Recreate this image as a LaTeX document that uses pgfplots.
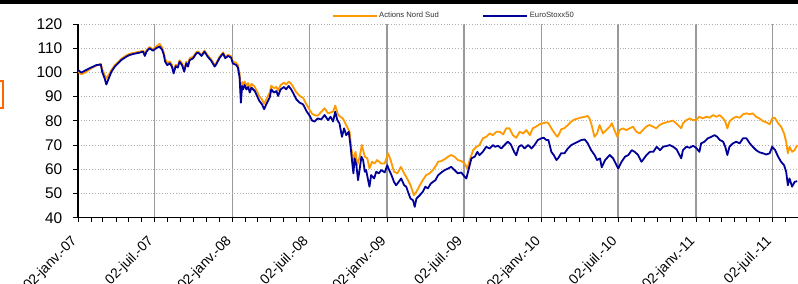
\documentclass[border=0pt]{standalone}
\usepackage{pgfplots}
\pgfplotsset{compat=1.18}
\usepackage{fontspec}
\setmainfont{Liberation Sans}
\definecolor{nsorange}{HTML}{FF9900}
\definecolor{stoxx}{HTML}{000099}
\definecolor{boxorange}{HTML}{FF6600}
\begin{document}
\begin{tikzpicture}
\useasboundingbox (0,0) rectangle (798bp,-284bp);
\clip (0,0) rectangle (798bp,-284bp);
\fill[black] (0,0) rectangle (798bp,-3.5bp);
\draw[boxorange, line width=2bp] (-10bp,-81bp) rectangle (3.3bp,-108bp);
\begin{axis}[
  at={(78bp,-217.7bp)}, anchor=south west,
  scale only axis, width=720bp, height=193.7bp,
  xmin=0, xmax=1702, ymin=40, ymax=120,
  axis x line*=bottom, axis y line*=left,
  axis line style={-, black, line width=1.2bp},
  tick pos=left, tick align=outside,
  major tick length=4.5bp, minor tick length=4bp,
  every tick/.style={black, line width=1bp},
  xtick={0,181,365,547,731,912,1096,1277,1461,1642},
  xticklabels={02-janv.-07,02-juil.-07,02-janv.-08,02-juil.-08,02-janv.-09,02-juil.-09,02-janv.-10,02-juil.-10,02-janv.-11,02-juil.-11},
  minor xtick={31,59,90,120,151,212,243,273,304,334,396,425,456,486,517,578,609,639,670,700,762,790,821,851,882,943,974,1004,1035,1065,1127,1155,1186,1216,1247,1308,1339,1369,1400,1430,1492,1520,1551,1581,1612,1673},
  ytick={40,50,...,120},
  xmajorgrids, ymajorgrids,
  x grid style={color=black!40, line width=1.6bp},
  y grid style={color=black!30, line width=0.8bp, dotted},
  /pgf/number format/assume math mode=true,
  yticklabel style={font=\fontsize{15.5}{18}\selectfont, inner sep=0pt, anchor=east, xshift=-11bp},
  xticklabel style={font=\fontsize{14}{16}\selectfont, inner sep=0pt, xshift=-3bp, yshift=-17bp, rotate=45, anchor=east},
  legend columns=2,
  legend style={at={(rel axis cs:0.5215,1.043)}, anchor=center, draw=none, fill=none,
    font=\fontsize{7.7}{9}\selectfont, text=black!80, inner sep=0pt,
    nodes={inner sep=1.5bp},
    /tikz/every even column/.append style={column sep=42bp}},
  legend image code/.code={\draw[#1, line width=2bp] (0bp,0bp) -- (44bp,0bp);},
  every axis plot/.append style={line width=1.8bp, line join=round},
]
\addplot[color=nsorange] coordinates {
(0,100.2)(8,99.3)(16,99.8)(32,101.8)(43,102.8)(54,103.5)(57,101.5)(63,99)(67,97.5)(71,98.5)(79,101)(87,103)(95,104.3)(102,105.6)(114,107)(122,107.7)(130,108)(138,108.3)(146,108.6)(154,109)(158,107.5)(162,109.2)(169,110.5)(177,109.5)(185,110.8)(193,111.8)(199,110.3)(203,108)(206,105.5)(211,104)(217,104.5)(222,103.2)(226,100.5)(231,103.2)(236,102.8)(240,105)(246,103.8)(251,101.2)(256,104.5)(260,103.2)(264,105.8)(272,106.5)(280,108.4)
(284,108.6)(292,107.3)(299,109)(307,107)(315,105.4)(323,103)(327,104)(335,106.6)(343,108.3)(348,106.5)(355,107.3)(362,106.7)(366,104.5)(374,104)(378,103)(382,99.5)(385,91)(388,96)(390,95)(394,96.2)(398,94.5)(402,95.6)(406,93.5)(410,95.3)(418,94)(425,91.5)(429,90)(435,88.8)(440,87)(445,88.8)(453,91.5)(457,94.5)(463,93.5)(469,94)(473,92.5)(479,94.8)(487,95.8)(492,95)(498,96.2)(504,95.3)(508,94.2)(516,91.8)(524,90.3)(532,89.5)(540,86.8)(548,84.5)(553,83)(559,82.3)(567,82.2)
(583,85.2)(591,83.1)(603,83.8)(608,86.3)(615,82.4)(626,81)(634,78.3)(642,75.5)(646,68.6)(651,63.8)(656,67.2)(660,61.7)(666,65.2)(671,70)(678,65.2)(684,64.5)(689,60.3)(695,63.1)(701,62.4)(707,63.8)(717,62.4)(725,62.4)(733,66.6)(739,63.8)(747,59)(755,58.3)(763,61)(771,58.3)(778,56.2)(786,53.4)(794,49.3)(800,50.7)(808,53.4)(815,55.5)(823,57.6)(831,58.3)(839,59.7)(847,61.7)
(851,63.1)(859,63.4)(867,64.2)(875,65.2)(882,65.9)(890,65.2)(898,63.8)(906,63.4)(914,62.4)(920,60.3)(926,63.8)(934,67.9)(942,69.3)(949,70)(957,72.8)(965,73.4)(973,74.8)(981,74.1)(989,75.5)(997,75.5)(1005,74.4)(1012,76.9)(1020,76.9)(1028,74.1)(1036,73)(1044,75.5)(1052,74.8)(1060,76.2)(1068,74.1)(1075,76.9)(1083,77.6)(1091,78.6)(1099,79)(1107,79.4)(1112,79)(1119,76.9)(1127,74.8)(1133,73.4)(1138,74.8)(1142,76.5)(1150,77)
(1158,78.3)(1166,79.7)(1174,80.6)(1182,81)(1190,81.4)(1198,81.7)(1205,82)(1209,81)(1213,79)(1217,76.2)(1221,73.4)(1227,74.8)(1233,78.3)(1241,74.8)(1249,76.2)(1257,77.6)(1262,79)(1268,76.2)(1275,73.4)(1280,76.2)(1288,76.9)(1296,76.2)(1304,76.9)(1312,77.6)(1320,75.5)(1328,74.8)(1335,76.2)(1343,77.6)(1351,78.3)(1359,77.6)(1367,76.9)(1375,78.3)(1383,79)(1391,79.4)(1398,79.7)(1406,80.1)(1414,79)
(1418,78.3)(1426,76.9)(1430,79)(1438,80.3)(1446,81)(1454,80.3)(1461,80.3)(1469,81.7)(1477,81)(1485,81.7)(1493,81.3)(1501,82.4)(1509,81.7)(1517,82.4)(1525,81)(1530,79.7)(1535,76.9)(1540,79.7)(1548,81)(1556,81.7)(1564,81.3)(1572,82.7)(1580,83.1)(1588,82.7)(1595,83.1)(1603,81.7)(1611,81)(1619,79.9)(1627,79.4)(1635,78.6)(1641,81)(1647,81.3)(1655,79)(1662,77.6)(1669,74.8)(1674,71.4)(1678,66.6)(1682,69.3)(1688,67.2)(1694,67.9)(1700,70)
};
\addlegendentry{Actions Nord Sud}
\addplot[color=stoxx] coordinates {
(0,101)(8,99.9)(16,100.7)(32,102.1)(43,103)(54,103.3)(57,100.3)(63,97.5)(67,95)(71,96.8)(79,100.3)(87,102.4)(95,103.8)(102,105.1)(114,106.5)(122,107.2)(130,107.6)(138,107.9)(146,108.2)(154,108.6)(158,106.8)(162,108.6)(169,110)(177,109)(185,110)(193,110.7)(199,109.3)(203,107.2)(206,104.4)(211,103)(217,103.8)(222,102.4)(226,99.6)(231,102.6)(236,102)(240,104.4)(246,103)(251,100.3)(256,103.8)(260,102.4)(264,105.1)(272,105.8)(280,107.9)
(284,108.2)(292,106.8)(299,108.6)(307,106.4)(315,104.8)(323,102.4)(327,103.4)(335,106.1)(343,107.8)(348,105.9)(355,106.8)(362,106.1)(366,103.7)(374,103.1)(378,102)(382,97.9)(385,87.5)(388,94.4)(390,93)(394,94.8)(398,93)(402,94)(406,91.7)(410,93.7)(418,92.3)(425,89.6)(429,88.2)(435,86.8)(440,84.8)(445,86.8)(453,89.6)(457,93)(463,91.7)(469,92.3)(473,90.3)(479,93)(487,94)(492,93)(498,94.4)(504,93)(508,91.7)(516,88.9)(524,87.5)(532,86.8)(540,84.1)(548,82)(553,80.2)(559,79.7)(567,81)
(575,80.6)(583,82.4)(591,80.3)(597,81.7)(603,79.7)(608,83.8)(613,80.3)(618,79)(624,73.4)(629,76.9)(634,74.1)(640,75.5)(644,70)(648,63.1)(651,58.3)(654,64.5)(658,61.7)(662,55.5)(666,60.3)(670,65.2)(674,63.8)(678,59)(681,59.7)(685,56.2)(689,52.8)(693,57.6)(700,56.2)(705,59)(711,58.3)(717,59.7)(725,58.7)(731,61.7)(734,60.3)(741,57.6)(747,54.8)(752,53.4)(758,54.8)(764,56.2)(771,53.4)(776,52.8)(780,50.7)(786,47.9)(792,47.2)(796,44.5)(800,47.9)(808,49.3)(815,50.7)(821,52.8)(827,52.1)(834,54.1)(839,54.8)(845,55.5)(851,57.5)
(859,58.7)(867,59.7)(875,60.3)(882,61)(890,59.7)(898,58.3)(906,58.7)(914,56.9)(918,56.2)(922,59)(930,64.5)(938,65.2)(944,67.2)(949,65.8)(957,67.2)(965,69.3)(973,68.6)(981,70)(986,69.3)(993,69.7)(1001,68.6)(1008,70)(1016,71.4)(1023,70.3)(1031,67.2)(1036,65.8)(1042,69.3)(1048,70)(1056,68.6)(1064,70)(1072,68.6)(1079,70)(1087,72.1)(1095,72.8)(1101,73)(1107,72.1)(1112,72.1)(1119,67.2)(1125,65.8)(1131,63.8)(1136,64.8)(1142,66.6)
(1150,66.6)(1158,68.6)(1166,70)(1174,70.7)(1182,71.4)(1190,72.1)(1198,72.3)(1205,70.7)(1213,67.9)(1221,65.9)(1227,63.8)(1234,64.5)(1238,60.8)(1246,63.8)(1257,65.9)(1265,64.5)(1273,61.7)(1277,60.3)(1285,63.1)(1293,65.2)(1301,65.9)(1309,67.9)(1316,67.2)(1324,65.9)(1332,63.1)(1344,65.9)(1352,67.2)(1360,67.2)(1368,69.3)(1376,67.9)(1383,69.3)(1391,69.6)(1399,70)(1407,69.3)(1415,68.2)
(1426,64.5)(1430,67.9)(1438,69.3)(1446,68.9)(1454,69.7)(1461,68.9)(1469,67.2)(1473,70.7)(1481,71.4)(1489,72.8)(1497,73.4)(1505,74.1)(1511,73.4)(1517,72.1)(1525,71.4)(1530,69.3)(1535,65.9)(1540,69.3)(1548,70.7)(1556,71.4)(1564,70.7)(1572,72.8)(1580,72.8)(1588,70.7)(1595,69.3)(1603,67.9)(1611,67)(1619,66.6)(1627,66.1)(1635,66.6)(1641,69.3)(1648,67.9)(1655,65.2)(1662,63.1)(1669,61.7)(1674,59)(1678,53.4)(1682,56.2)(1688,52.8)(1694,54.8)(1700,55.1)
};
\addlegendentry{EuroStoxx50}
\end{axis}
\end{tikzpicture}
\end{document}
